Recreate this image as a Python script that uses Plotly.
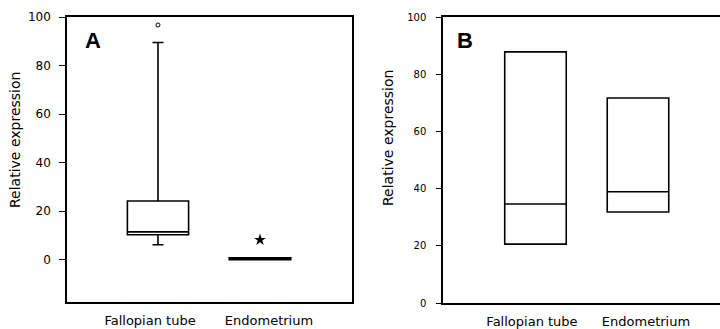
import plotly.graph_objects as go

categories = ["Fallopian tube", "Endometrium"]

# Panel A box statistics
a_q1 = [10.3, 0.1]
a_median = [11.5, 0.4]
a_q3 = [24.2, 0.7]
a_low = [6.2, 0.1]
a_high = [89.5, 0.7]
a_outlier_y = [96.7]
a_extreme_y = [8.2]

# Panel B box statistics
b_q1 = [20.6, 31.8]
b_median = [34.6, 38.9]
b_q3 = [87.8, 71.7]

ytick_a = [0, 20, 40, 60, 80, 100]
ytick_b = [0, 20, 40, 60, 80, 100]

pos = [0, 1]
lbl_pos_a = [-0.078, 1.088]
lbl_pos_b = [-0.034, 1.078]

fig = go.Figure()

for i in range(2):
    fig.add_trace(go.Box(
        x=[pos[i]], q1=[a_q1[i]], median=[a_median[i]], q3=[a_q3[i]],
        lowerfence=[a_low[i]], upperfence=[a_high[i]],
        width=0.6, whiskerwidth=0.18,
        line=dict(color="black", width=1.6 if i == 0 else 2),
        fillcolor="white" if i == 0 else "black",
        boxpoints=False, showlegend=False, xaxis="x", yaxis="y",
    ))

fig.add_trace(go.Scatter(
    x=[pos[0]], y=a_outlier_y, mode="markers",
    marker=dict(symbol="circle-open", size=4, color="black", line=dict(width=1)),
    showlegend=False, xaxis="x", yaxis="y"))
fig.add_trace(go.Scatter(
    x=[pos[1]], y=a_extreme_y, mode="markers",
    marker=dict(symbol="star", size=9, color="black"),
    showlegend=False, xaxis="x", yaxis="y"))

for i in range(2):
    fig.add_trace(go.Box(
        x=[pos[i]], q1=[b_q1[i]], median=[b_median[i]], q3=[b_q3[i]],
        lowerfence=[b_q1[i]], upperfence=[b_q3[i]],
        width=0.6, whiskerwidth=0,
        line=dict(color="black", width=1.6),
        fillcolor="white",
        boxpoints=False, showlegend=False, xaxis="x2", yaxis="y2",
    ))

H = 329.0
W = 720.0

fig.update_layout(
    width=720, height=329,
    margin=dict(l=0, r=0, t=0, b=0, autoexpand=False),
    paper_bgcolor="white", plot_bgcolor="white",
    font=dict(family="DejaVu Sans", color="black"),
    xaxis=dict(domain=[67 / W, 352 / W], range=[-0.892, 1.902], automargin=False,
               tickvals=lbl_pos_a, ticktext=categories, ticks="",
               showline=True, linecolor="black", linewidth=1.5, mirror=True,
               showgrid=False, zeroline=False, tickfont=dict(size=13),
               ticklabelstandoff=6),
    yaxis=dict(domain=[1 - 302 / H, 1 - 17 / H], range=[-17.4, 100], automargin=False,
               tickvals=ytick_a, ticks="outside", ticklen=6, tickcolor="black",
               showline=True, linecolor="black", linewidth=1.5, mirror=True,
               showgrid=False, zeroline=False, tickfont=dict(size=12),
               ticklabelstandoff=6),
    xaxis2=dict(domain=[443 / W, 1.0], range=[-0.902, 1.80], automargin=False,
                tickvals=lbl_pos_b, ticktext=categories, ticks="",
                showline=True, linecolor="black", linewidth=1.5, mirror=True,
                showgrid=False, zeroline=False, tickfont=dict(size=13),
                ticklabelstandoff=6, anchor="y2"),
    yaxis2=dict(domain=[1 - 303 / H, 1 - 17 / H], range=[0, 100], automargin=False,
                tickvals=ytick_b, ticks="outside", ticklen=5, tickcolor="black",
                showline=True, linecolor="black", linewidth=1.5, mirror=False,
                showgrid=False, zeroline=False, tickfont=dict(size=10),
                ticklabelstandoff=8, anchor="x2"),
    annotations=[
        dict(text="<b>A</b>", x=83 / W, y=1 - 50 / H, xref="paper", yref="paper",
             xanchor="left", yanchor="bottom", showarrow=False,
             font=dict(family="Liberation Sans", size=22), yshift=-5),
        dict(text="<b>B</b>", x=455 / W, y=1 - 50 / H, xref="paper", yref="paper",
             xanchor="left", yanchor="bottom", showarrow=False,
             font=dict(family="Liberation Sans", size=22), yshift=-5),
        dict(text="Relative expression", x=15 / W, y=1 - 140 / H, xref="paper", yref="paper",
             xanchor="center", yanchor="middle", textangle=-90, showarrow=False,
             font=dict(size=14)),
        dict(text="Relative expression", x=388 / W, y=1 - 138 / H, xref="paper", yref="paper",
             xanchor="center", yanchor="middle", textangle=-90, showarrow=False,
             font=dict(size=14)),
    ],
)

fig.write_html("out.html")
